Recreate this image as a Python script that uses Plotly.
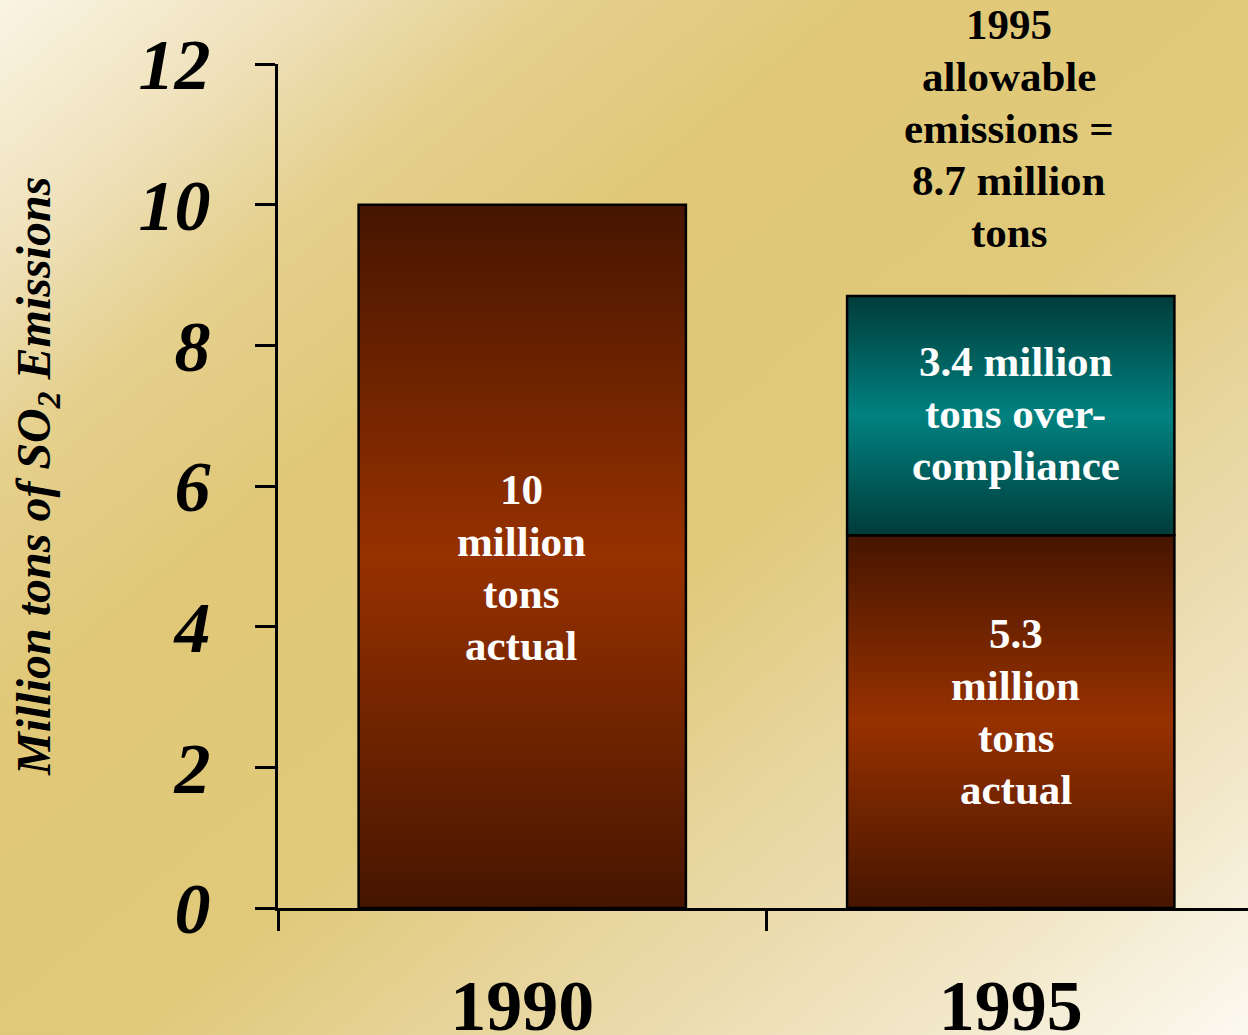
import base64
import plotly.graph_objects as go

# ---------------- data ----------------
years = ["1990", "1995"]
actual = [10.0, 5.3]            # million tons actually emitted
overcompliance = [0.0, 3.4]     # million tons below allowance
allowable_1995 = 8.7
y_ticks = [0, 2, 4, 6, 8, 10, 12]

label_actual = [["10", "million", "tons", "actual"],
                ["5.3", "million", "tons", "actual"]]
label_over = ["3.4 million", "tons over-", "compliance"]
label_allowable = ["1995", "allowable", "emissions =", "8.7 million", "tons"]
axis_title = "Million tons of SO<sub>2</sub> Emissions"

# ---------------- style ----------------
W, H = 1248, 1035
FONT = "Liberation Serif"
BAR_W = 0.67
LINE_H = 52
BROWN = [[0, "#461500"], [0.5, "#973100"], [1, "#461500"]]
TEAL = [[0, "#003c3a"], [0.5, "#008180"], [1, "#003c3a"]]

svg = (
    '<svg xmlns="http://www.w3.org/2000/svg" width="1248" height="1035" '
    'viewBox="0 0 1248 1035" preserveAspectRatio="none"><defs>'
    '<linearGradient id="g" x1="0" y1="0" x2="1" y2="1">'
    '<stop offset="0" stop-color="#faf4e4"/>'
    '<stop offset="0.13" stop-color="#eee0b8"/>'
    '<stop offset="0.22" stop-color="#e5d08e"/>'
    '<stop offset="0.35" stop-color="#e0c878"/>'
    '<stop offset="0.55" stop-color="#e0c97a"/>'
    '<stop offset="0.72" stop-color="#e9d8a5"/>'
    '<stop offset="0.86" stop-color="#f1e6c6"/>'
    '<stop offset="1" stop-color="#fcf9f1"/>'
    '</linearGradient></defs>'
    '<rect width="1248" height="1035" fill="url(#g)"/></svg>'
)
bg_src = "data:image/svg+xml;base64," + base64.b64encode(svg.encode()).decode()

fig = go.Figure()


def seg(i, base, top, scale):
    x0, x1 = i - BAR_W / 2, i + BAR_W / 2
    fig.add_trace(go.Scatter(
        x=[x0, x1, x1, x0, x0], y=[base, base, top, top, base],
        mode="lines", fill="toself",
        fillgradient=dict(type="vertical", colorscale=scale),
        line=dict(color="black", width=2.5),
        hoverinfo="skip", showlegend=False,
    ))


for i, yr in enumerate(years):
    seg(i, 0, actual[i], BROWN)
    if overcompliance[i] > 0:
        seg(i, actual[i], actual[i] + overcompliance[i], TEAL)

annotations = []


def text_block(x, y, lines, shift, color, xshift=0):
    n = len(lines)
    for k, t in enumerate(lines):
        annotations.append(dict(
            x=x, y=y, xref="x", yref="y", text=t, showarrow=False,
            xanchor="center", yanchor="middle", xshift=xshift,
            yshift=shift + ((n - 1) / 2 - k) * LINE_H,
            font=dict(family=FONT, size=43, color=color, weight="bold"),
        ))


block_shift = [-11, 10]
block_xshift = [-1, 5]
for i in range(len(years)):
    text_block(i, actual[i] / 2, label_actual[i], block_shift[i], "white",
               block_xshift[i])
text_block(1, actual[1] + overcompliance[1] / 2, label_over, 2, "white", 5)
text_block(1, allowable_1995, label_allowable,
           64 + (len(label_allowable) - 1) / 2 * LINE_H, "black", -2)

annotations.append(dict(
    x=37 / W, y=(H - 477) / H, xref="paper", yref="paper",
    text=axis_title, showarrow=False, textangle=-90,
    xanchor="center", yanchor="middle",
    font=dict(family=FONT, size=48, color="black", weight="bold", style="italic"),
))

fig.update_layout(
    width=W, height=H,
    margin=dict(l=0, r=0, t=0, b=0, autoexpand=False),
    paper_bgcolor="rgba(0,0,0,0)",
    plot_bgcolor="rgba(0,0,0,0)",
    showlegend=False,
    annotations=annotations,
    images=[dict(source=bg_src, xref="paper", yref="paper", x=0, y=1,
                 sizex=1, sizey=1, sizing="stretch", xanchor="left",
                 yanchor="top", layer="below")],
    xaxis=dict(
        domain=[278 / W, 1], range=[-0.5, -0.5 + 970 / 488.5],
        automargin=False,
        tickvals=list(range(len(years))), ticktext=years,
        ticks="", showgrid=False, zeroline=False,
        showline=True, linecolor="black", linewidth=3,
        tickfont=dict(family=FONT, size=72, color="black", weight="bold"),
        ticklabelstandoff=33,
        minor=dict(tickvals=[i - 0.5 for i in range(len(years))],
                   ticks="outside", ticklen=20, tickwidth=3, tickcolor="black",
                   showgrid=False),
    ),
    yaxis=dict(
        domain=[(H - 908) / H, (H - 64) / H], range=[0, 12],
        automargin=False,
        tickvals=y_ticks, ticks="outside", ticklen=20, tickwidth=3,
        tickcolor="black", showgrid=False, zeroline=False,
        showline=True, linecolor="black", linewidth=3,
        tickfont=dict(family=FONT, size=72, color="black", weight="bold",
                      style="italic"),
        ticklabelstandoff=30,
    ),
)

fig.write_html("out.html")
